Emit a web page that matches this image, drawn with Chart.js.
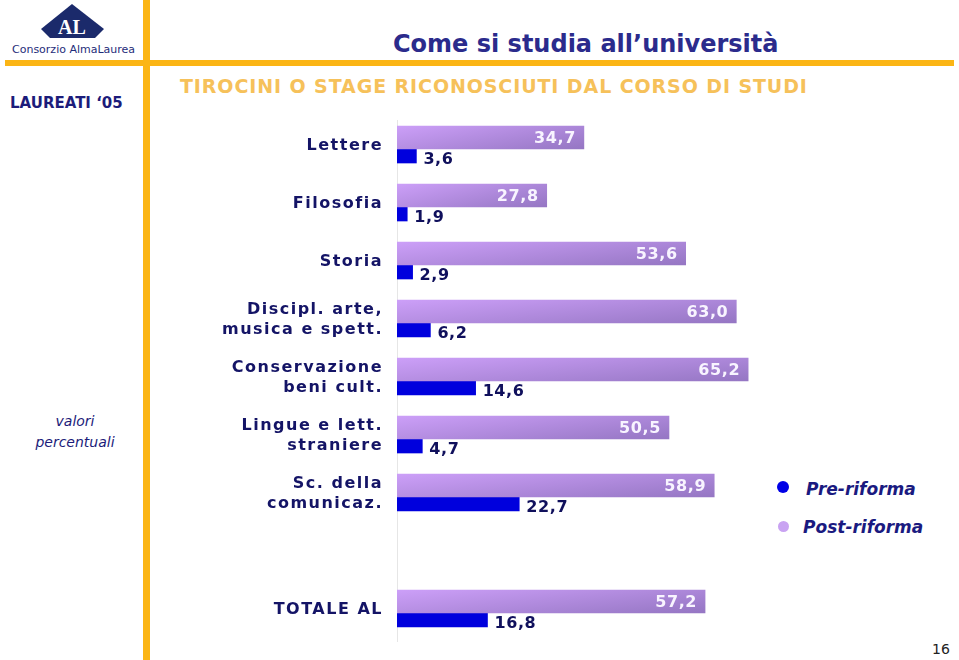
<!DOCTYPE html>
<html>
<head>
<meta charset="utf-8">
<script src="https://cdn.jsdelivr.net/npm/chart.js@4.4.1/dist/chart.umd.min.js"></script>
<style>
  body { margin: 0; width: 959px; height: 660px; position: relative; overflow: hidden; background: #fff; font-family: "DejaVu Sans", sans-serif; }
  .abs { position: absolute; white-space: nowrap; }
  .hline { position: absolute; left: 5px; top: 60px; width: 949px; height: 6px; background: #fbb515; }
  .vline { position: absolute; left: 143px; top: 0; width: 7px; height: 660px; background: #fbb515; }
  #title { left: 393px; top: 30px; font-size: 24px; font-weight: bold; color: #2b2b8c; }
  #subtitle { left: 180px; top: 75px; font-size: 19px; letter-spacing: 0.9px; font-weight: bold; color: #f6c15a; }
  #brand { left: 12px; top: 43px; font-size: 11px; color: #1f2d7a; }
  #laureati { left: 10px; top: 94px; font-size: 15px; font-weight: bold; color: #1c1c7a; }
  #unit { left: 0; width: 150px; top: 411px; text-align: center; font-size: 14px; font-style: italic; color: #1c1c7a; line-height: 21px; white-space: normal; }
  .leg { font-size: 17px; font-weight: bold; font-style: italic; color: #1a1a80; }
  .dot { position: absolute; border-radius: 50%; }
  #page { left: 932px; top: 641px; font-size: 14px; color: #222; }
  #wrap { position: absolute; left: 150px; top: 120px; width: 624px; height: 522px; }
</style>
</head>
<body>
<div class="hline"></div>
<div class="vline"></div>
<svg class="abs" style="left:38px;top:2px" width="70" height="40">
  <polygon points="34,2 66,27 57,36 12,36 3,27" fill="#1b2a6b"/>
  <text x="34" y="32" text-anchor="middle" font-family="Liberation Serif, serif" font-weight="bold" font-size="20" fill="#fff">AL</text>
</svg>
<div class="abs" id="brand">Consorzio AlmaLaurea</div>
<div class="abs" id="laureati">LAUREATI ‘05</div>
<div class="abs" id="title">Come si studia all’università</div>
<div class="abs" id="subtitle">TIROCINI O STAGE RICONOSCIUTI DAL CORSO DI STUDI</div>
<div class="abs" id="unit">valori<br>percentuali</div>
<div class="dot" style="left:777px;top:481px;width:12px;height:12px;background:#0000e6"></div>
<div class="abs leg" style="left:806px;top:479px">Pre-riforma</div>
<div class="dot" style="left:778px;top:521px;width:11px;height:11px;background:#c9a3f2"></div>
<div class="abs leg" style="left:803px;top:517px">Post-riforma</div>
<div class="abs" id="page">16</div>
<div id="wrap"><canvas id="chart"></canvas></div>

<script>
// corsi di laurea (gap before the total)
const categories = [
  'Lettere',
  'Filosofia',
  'Storia',
  ['Discipl. arte,', 'musica e spett.'],
  ['Conservazione', 'beni cult.'],
  ['Lingue e lett.', 'straniere'],
  ['Sc. della', 'comunicaz.'],
  '',
  'TOTALE AL'
];
const postRiforma = [34.7, 27.8, 53.6, 63.0, 65.2, 50.5, 58.9, null, 57.2];
const preRiforma = [3.6, 1.9, 2.9, 6.2, 14.6, 4.7, 22.7, null, 16.8];
const xMax = 70;

function fmt(v) {
  return v.toFixed(1).replace('.', ',');
}

// lavender gradient, light top-left to darker bottom-right
function purpleFill(ctx) {
  const chart = ctx.chart;
  const scales = chart.scales;
  const fallback = '#b48fe4';
  if (ctx.type !== 'data' || ctx.raw == null || !scales.x || !scales.y) return fallback;
  const h = 23;
  const c = scales.y.getPixelForValue(ctx.dataIndex);
  const x0 = scales.x.getPixelForValue(0);
  const x1 = scales.x.getPixelForValue(ctx.raw);
  if (![c, x0, x1].every(Number.isFinite)) return fallback;
  const L = Math.max(x1 - x0, 1);
  const k = 1 / (0.36 / (L * L) + 0.16 / (h * h));
  const g = chart.ctx.createLinearGradient(x0, c - h, x0 + 0.6 * k / L, c - h + 0.4 * k / h);
  g.addColorStop(0, '#cc9ff8');
  g.addColorStop(1, '#9576c3');
  return g;
}

const spacing = {
  id: 'spacing',
  beforeDraw(chart) { chart.ctx.letterSpacing = '1.5px'; },
  beforeDatasetsDraw(chart) { chart.ctx.letterSpacing = '0px'; }
};

const valueLabels = {
  id: 'valueLabels',
  afterDatasetsDraw(chart) {
    const ctx = chart.ctx;
    ctx.save();
    ctx.letterSpacing = '0.6px';
    ctx.font = 'bold 16px "DejaVu Sans"';
    ctx.textBaseline = 'middle';
    chart.data.datasets.forEach((ds, i) => {
      const meta = chart.getDatasetMeta(i);
      meta.data.forEach((bar, j) => {
        const v = ds.data[j];
        if (v == null) return;
        if (i === 0) {
          ctx.fillStyle = '#f8f4ff';
          ctx.textAlign = 'right';
          ctx.fillText(fmt(v), bar.x - 8, bar.y + 1);
        } else {
          ctx.fillStyle = '#10105c';
          ctx.textAlign = 'left';
          ctx.fillText(fmt(v), bar.x + 7, bar.y + 3.5);
        }
      });
    });
    ctx.restore();
  }
};

new Chart(document.getElementById('chart'), {
  type: 'bar',
  data: {
    labels: categories,
    datasets: [
      { label: 'Post-riforma', data: postRiforma, backgroundColor: purpleFill, barThickness: 23 },
      { label: 'Pre-riforma', data: preRiforma, backgroundColor: '#0000dd', barThickness: 14 }
    ]
  },
  options: {
    indexAxis: 'y',
    responsive: true,
    maintainAspectRatio: false,
    animation: false,
    layout: { padding: 0 },
    plugins: {
      legend: { display: false },
      tooltip: { enabled: false }
    },
    scales: {
      x: { display: false, min: 0, max: xMax },
      y: {
        grid: { display: false },
        border: { display: true, color: '#e6e6e6', width: 1 },
        ticks: {
          color: '#141466',
          font: { family: 'DejaVu Sans', size: 16, weight: 'bold', lineHeight: 1.25 },
          padding: 6,
          labelOffset: -3
        },
        afterFit(scale) {
          scale.width = 247;
          scale.paddingTop = 0;
          scale.paddingBottom = 0;
        }
      }
    }
  },
  plugins: [spacing, valueLabels]
});
</script>
</body>
</html>
